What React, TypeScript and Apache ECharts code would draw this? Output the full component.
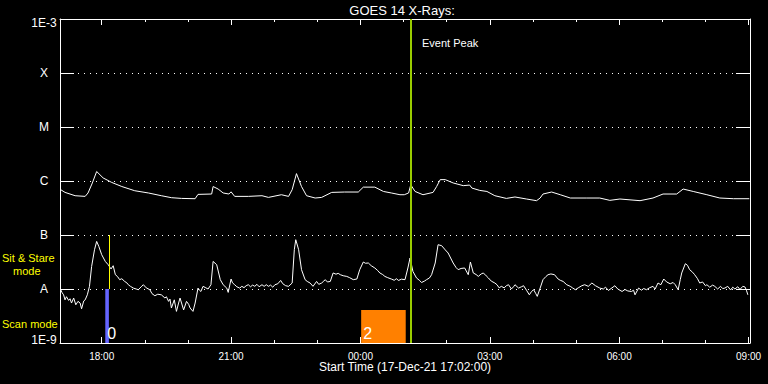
import React, { useEffect, useRef } from "react";
import * as echarts from "echarts";

// ---------- texts ----------
const chartTitle = "GOES 14 X-Rays:";
const startLabel = "Start Time (17-Dec-21 17:02:00)";
const eventLabel = "Event Peak";
const modeLabels = ["Sit & Stare", "mode", "Scan mode"];

// ---------- axes ----------
const startTime = "17:02";
const endTime = "09:02";
const majorTicks = ["18:00", "21:00", "00:00", "03:00", "06:00", "09:00"];
const minorTicks = [
  "18:00", "19:00", "20:00", "21:00", "22:00", "23:00", "00:00", "01:00",
  "02:00", "03:00", "04:00", "05:00", "06:00", "07:00", "08:00", "09:00",
];
const yMin = 1e-9;
const yMax = 1e-3;
const yTickExps = [-9, -8, -7, -6, -5, -4, -3];
const yTickLabels = ["1E-9", "A", "B", "C", "M", "X", "1E-3"];

// ---------- data: 1-8 A channel (W/m^2) ----------
const longChannel: [string, number][] = [
  ["17:03", 6.9e-7], ["17:09", 6.15e-7], ["17:23", 5.34e-7], ["17:37", 5.19e-7],
  ["17:41", 6.0e-7], ["17:47", 9.2e-7], ["17:53", 1.5e-6], ["18:02", 1.14e-6],
  ["18:14", 9.4e-7], ["18:28", 7.9e-7], ["18:46", 6.6e-7], ["19:05", 6.0e-7],
  ["19:23", 5.34e-7], ["19:37", 4.91e-7], ["19:51", 4.76e-7], ["20:10", 4.7e-7],
  ["20:14", 5.65e-7], ["20:33", 5.74e-7], ["20:35", 7.9e-7], ["20:42", 7.1e-7],
  ["20:49", 6.0e-7], ["20:57", 5.74e-7], ["21:00", 6.3e-7], ["21:05", 5.19e-7],
  ["21:24", 5.19e-7], ["21:43", 5.34e-7], ["21:52", 4.97e-7], ["22:10", 5.57e-7],
  ["22:20", 5.19e-7], ["22:25", 6.9e-7], ["22:31", 1.37e-6], ["22:38", 7.9e-7],
  ["22:45", 5.34e-7], ["22:57", 4.84e-7], ["23:06", 4.97e-7], ["23:20", 6.15e-7],
  ["23:38", 6.25e-7], ["23:57", 6.25e-7], ["00:04", 7.7e-7], ["00:20", 7.7e-7],
  ["00:32", 6.4e-7], ["00:43", 6.0e-7], ["00:55", 5.57e-7], ["01:01", 5.57e-7],
  ["01:07", 6.0e-7], ["01:10", 8.5e-7], ["01:16", 6.4e-7], ["01:27", 5.57e-7],
  ["01:41", 6.15e-7], ["01:46", 7.9e-7], ["01:51", 1.06e-6], ["01:58", 1.06e-6],
  ["02:09", 9.2e-7], ["02:23", 8.2e-7], ["02:32", 8.4e-7], ["02:35", 7.4e-7],
  ["02:46", 6.7e-7], ["02:56", 6.4e-7], ["03:07", 5.34e-7], ["03:23", 4.76e-7],
  ["03:35", 5.06e-7], ["03:51", 4.64e-7], ["04:05", 4.32e-7], ["04:10", 4.84e-7],
  ["04:14", 5.74e-7], ["04:26", 6.25e-7], ["04:38", 5.57e-7], ["04:52", 4.84e-7],
  ["05:15", 4.84e-7], ["05:33", 4.84e-7], ["05:47", 4.38e-7], ["06:01", 4.64e-7],
  ["06:29", 4.32e-7], ["06:47", 4.84e-7], ["07:01", 5.74e-7], ["07:20", 5.74e-7],
  ["07:29", 7.1e-7], ["07:43", 6.4e-7], ["08:02", 5.57e-7], ["08:20", 4.84e-7],
  ["08:39", 4.7e-7], ["09:01", 4.7e-7],
];

// ---------- data: 0.5-4 A channel, in units of 1e-8 W/m^2 (A level) ----------
const shortChannelA: [string, number][] = [
  ["17:03", 0.97], ["17:05", 0.85], ["17:07", 0.78], ["17:09", 0.63], ["17:11", 0.72],
  ["17:14", 0.615], ["17:16", 0.66], ["17:18", 0.55], ["17:21", 0.68], ["17:24", 0.51],
  ["17:27", 0.59], ["17:30", 0.55], ["17:32", 0.43], ["17:35", 0.6], ["17:37", 0.63],
  ["17:40", 0.78], ["17:43", 1.12], ["17:46", 2.62], ["17:50", 5.34], ["17:53", 7.61],
  ["17:56", 6.15], ["18:00", 4.32], ["18:05", 3.24], ["18:09", 2.82], ["18:13", 2.35],
  ["18:16", 2.7], ["18:19", 1.84], ["18:22", 1.7], ["18:25", 1.49], ["18:28", 1.55],
  ["18:32", 1.38], ["18:35", 1.3], ["18:37", 1.2], ["18:40", 1.12], ["18:44", 1.04],
  ["18:48", 1.0], ["18:51", 0.97], ["18:55", 1.1], ["18:58", 1.2], ["19:02", 1.05],
  ["19:07", 0.97], ["19:10", 0.82], ["19:14", 0.75], ["19:18", 0.8], ["19:23", 0.78],
  ["19:28", 0.68], ["19:30", 0.72], ["19:33", 0.59], ["19:35", 0.65], ["19:37", 0.445],
  ["19:41", 0.63], ["19:44", 0.385], ["19:47", 0.55], ["19:49", 0.68], ["19:54", 0.41],
  ["19:58", 0.59], ["20:01", 0.52], ["20:03", 0.445], ["20:07", 0.385], ["20:10", 0.55],
  ["20:14", 1.04], ["20:16", 0.95], ["20:18", 0.9], ["20:21", 1.12], ["20:25", 1.05],
  ["20:28", 1.0], ["20:32", 1.2], ["20:35", 3.24], ["20:40", 2.82], ["20:45", 1.49],
  ["20:49", 1.2], ["20:54", 1.04], ["20:56", 0.865], ["21:00", 1.53], ["21:02", 1.3],
  ["21:05", 1.2], ["21:08", 1.1], ["21:12", 1.04], ["21:15", 1.12], ["21:18", 1.06],
  ["21:21", 1.15], ["21:24", 1.2], ["21:27", 1.1], ["21:30", 1.18], ["21:33", 1.12],
  ["21:36", 1.22], ["21:39", 1.1], ["21:43", 1.2], ["21:46", 1.12], ["21:49", 1.2],
  ["21:52", 1.12], ["21:55", 1.18], ["21:58", 1.08], ["22:01", 1.2], ["22:05", 1.25],
  ["22:09", 1.44], ["22:12", 1.25], ["22:16", 1.15], ["22:20", 1.12], ["22:25", 1.29],
  ["22:28", 5.34], ["22:30", 8.18], ["22:34", 5.34], ["22:38", 2.28], ["22:43", 1.49],
  ["22:46", 1.38], ["22:50", 1.29], ["22:54", 1.12], ["22:59", 1.38], ["23:02", 1.22],
  ["23:06", 1.29], ["23:09", 1.4], ["23:11", 1.49], ["23:14", 1.35], ["23:18", 1.38],
  ["23:22", 1.98], ["23:26", 1.88], ["23:29", 1.95], ["23:32", 1.84], ["23:36", 1.76],
  ["23:41", 1.71], ["23:45", 1.62], ["23:50", 1.49], ["23:55", 1.53], ["23:59", 2.28],
  ["00:04", 3.16], ["00:07", 3.0], ["00:11", 3.03], ["00:15", 2.7], ["00:20", 2.45],
  ["00:24", 2.2], ["00:27", 1.98], ["00:31", 1.85], ["00:34", 1.71], ["00:38", 1.62],
  ["00:43", 1.53], ["00:47", 1.45], ["00:50", 1.55], ["00:53", 1.44], ["00:57", 1.52],
  ["01:02", 1.49], ["01:06", 2.45], ["01:09", 3.75], ["01:13", 2.12], ["01:18", 1.6],
  ["01:22", 1.45], ["01:25", 1.32], ["01:29", 1.4], ["01:32", 1.49], ["01:36", 1.6],
  ["01:39", 1.84], ["01:44", 3.03], ["01:48", 6.61], ["01:53", 6.34], ["01:58", 5.3],
  ["02:02", 4.64], ["02:09", 3.03], ["02:13", 2.5], ["02:16", 2.28], ["02:20", 2.4],
  ["02:25", 2.45], ["02:30", 1.84], ["02:33", 3.16], ["02:37", 1.98], ["02:41", 1.85],
  ["02:44", 1.71], ["02:48", 1.9], ["02:51", 1.98], ["02:55", 1.75], ["02:58", 1.6],
  ["03:02", 1.4], ["03:07", 1.29], ["03:10", 1.2], ["03:13", 1.05], ["03:16", 1.12],
  ["03:20", 1.05], ["03:23", 1.15], ["03:26", 1.2], ["03:30", 1.0], ["03:33", 1.1],
  ["03:35", 1.2], ["03:40", 1.04], ["03:44", 1.1], ["03:47", 1.15], ["03:51", 0.95],
  ["03:55", 0.78], ["03:58", 0.9], ["04:01", 0.97], ["04:04", 0.82], ["04:06", 0.73],
  ["04:10", 1.04], ["04:14", 1.49], ["04:18", 1.7], ["04:21", 1.84], ["04:25", 1.9],
  ["04:30", 1.84], ["04:35", 1.53], ["04:38", 1.45], ["04:42", 1.38], ["04:47", 1.2],
  ["04:52", 1.12], ["04:55", 1.05], ["04:59", 0.97], ["05:03", 1.05], ["05:08", 1.15],
  ["05:12", 1.2], ["05:17", 1.12], ["05:22", 1.29], ["05:27", 1.15], ["05:33", 1.04],
  ["05:38", 1.0], ["05:41", 1.08], ["05:45", 0.94], ["05:50", 1.05], ["05:54", 1.15],
  ["05:58", 1.0], ["06:04", 0.9], ["06:08", 0.98], ["06:12", 0.92], ["06:17", 0.9],
  ["06:20", 0.95], ["06:22", 0.78], ["06:27", 1.04], ["06:31", 0.95], ["06:34", 1.02],
  ["06:38", 0.97], ["06:42", 1.05], ["06:47", 1.12], ["06:50", 1.0], ["06:54", 1.29],
  ["06:58", 1.2], ["07:02", 1.53], ["07:06", 1.35], ["07:11", 1.25], ["07:15", 1.32],
  ["07:18", 1.2], ["07:22", 0.97], ["07:25", 1.5], ["07:27", 1.98], ["07:32", 2.94],
  ["07:35", 2.75], ["07:38", 2.28], ["07:42", 2.05], ["07:45", 1.84], ["07:49", 1.55],
  ["07:52", 1.29], ["07:56", 1.35], ["08:00", 1.15], ["08:02", 1.2], ["08:06", 1.08],
  ["08:10", 1.18], ["08:13", 1.12], ["08:17", 1.0], ["08:21", 1.12], ["08:24", 1.02],
  ["08:27", 1.04], ["08:31", 1.12], ["08:35", 0.96], ["08:38", 1.08], ["08:41", 1.0],
  ["08:45", 1.1], ["08:48", 0.98], ["08:52", 1.12], ["08:55", 1.09], ["08:57", 0.95],
  ["08:59", 0.78],
];

// ---------- observation markers ----------
const obsStart = ["18:05", "00:01"];
const obsEnd = ["18:10", "01:03"];
const obsTop = [1e-8, 4.1e-9];
const obsLabel = ["0", "2"];
const obsColors = ["#6464ff", "#ff8000"];
const stareTime = "18:11";
const stareRange = [1e-7, 1e-8];
const eventPeak = "01:10";

// hours since 17-Dec 00:00 (times before noon belong to 18-Dec)
const toH = (s: string) => {
  const [h, m] = s.split(":").map(Number);
  let v = h + m / 60;
  if (v < 12) v += 24;
  return v;
};

const fmtHour = (v: number) => {
  const h = Math.round(v) % 24;
  return (h < 10 ? "0" : "") + h + ":00";
};

export default function App() {
  const ref = useRef<HTMLDivElement>(null);

  useEffect(() => {
    if (!ref.current) return;
    const chart = echarts.init(ref.current, undefined, { renderer: "svg" });
    const white = "#ffffff";
    const font = "'Liberation Sans', Arial, sans-serif";
    const xMin = toH(startTime);
    const xMax = toH(endTime);
    const major = majorTicks.map(toH);
    const minor = minorTicks.map(toH);

    const xAxisDef = (position: string, ticks: number[], len: number, labels: boolean, line: boolean) => ({
      type: "value",
      position,
      min: xMin,
      max: xMax,
      axisLine: { show: line, onZero: false, lineStyle: { color: white, width: 1 } },
      axisTick: {
        show: true,
        inside: true,
        length: len,
        customValues: ticks,
        lineStyle: { color: white, width: 1 },
      },
      axisLabel: labels
        ? {
            show: true,
            customValues: ticks,
            formatter: (v: number) => fmtHour(v),
            color: white,
            fontSize: 10,
            fontFamily: font,
            margin: 8,
          }
        : { show: false },
      splitLine: { show: false },
    });

    const yLabel = (v: number) => {
      const e = Math.round(Math.log10(v));
      const i = yTickExps.indexOf(e);
      if (i < 0) return "";
      if (i === 0) return "{bot|" + yTickLabels[i] + "}";
      if (i === yTickExps.length - 1) return "{top|" + yTickLabels[i] + "}";
      return yTickLabels[i];
    };

    const yAxisDef = (position: string, labels: boolean, split: boolean) => ({
      type: "log",
      logBase: 10,
      position,
      min: yMin,
      max: yMax,
      axisLine: { show: true, lineStyle: { color: white, width: 1 } },
      axisTick: { show: true, inside: true, length: 14, lineStyle: { color: white, width: 1 } },
      minorTick: { show: false },
      axisLabel: labels
        ? {
            show: true,
            formatter: yLabel,
            color: white,
            fontSize: 12,
            fontFamily: font,
            align: "center",
            margin: 16,
            rich: {
              top: { color: white, fontSize: 12, fontFamily: font, padding: [7, 0, 0, 0] },
              bot: { color: white, fontSize: 12, fontFamily: font, padding: [0, 0, 6, 0] },
            },
          }
        : { show: false },
      splitLine: split
        ? { show: true, lineStyle: { color: white, width: 1, type: [1, 5] } }
        : { show: false },
    });

    const longData = longChannel.map(([t, v]) => [toH(t), v]);
    const shortData = shortChannelA.map(([t, v]) => [toH(t), v * 1e-8]);

    const areas = obsStart.map((s, i) => [
      {
        name: obsLabel[i],
        xAxis: toH(s),
        yAxis: yMin,
        itemStyle: { color: obsColors[i], opacity: 1 },
        label: {
          show: true,
          position: "insideBottomLeft",
          distance: 2,
          color: white,
          fontSize: 16,
          fontFamily: font,
        },
      },
      { xAxis: toH(obsEnd[i]), yAxis: obsTop[i] },
    ]);

    chart.setOption({
      animation: false,
      backgroundColor: "#000000",
      grid: { left: 60, right: 18, top: 19, bottom: 41 },
      xAxis: [
        xAxisDef("bottom", major, 6, true, true),
        xAxisDef("bottom", minor, 3, false, false),
        xAxisDef("top", major, 6, false, true),
        xAxisDef("top", minor, 3, false, false),
      ],
      yAxis: [yAxisDef("left", true, true), yAxisDef("right", false, false)],
      series: [
        {
          type: "line",
          name: "short",
          data: shortData,
          xAxisIndex: 0,
          yAxisIndex: 0,
          symbol: "none",
          showSymbol: false,
          lineStyle: { color: white, width: 1 },
          itemStyle: { color: white },
          z: 3,
          markArea: { silent: true, data: areas },
        },
        {
          type: "line",
          name: "long",
          data: longData,
          xAxisIndex: 0,
          yAxisIndex: 0,
          symbol: "none",
          showSymbol: false,
          lineStyle: { color: white, width: 1 },
          itemStyle: { color: white },
          z: 3,
          markLine: {
            silent: true,
            symbol: ["none", "none"],
            label: { show: false },
            data: [
              { xAxis: toH(eventPeak), lineStyle: { color: "#99cc00", width: 2, type: "solid" } },
              [
                { coord: [toH(stareTime), stareRange[0]], lineStyle: { color: "#ffff00", width: 1, type: "solid" } },
                { coord: [toH(stareTime), stareRange[1]] },
              ],
            ],
          },
        },
      ],
      graphic: [
        {
          type: "text",
          x: 402,
          y: 10,
          style: { text: chartTitle, fill: white, font: `13px ${font}`, textAlign: "center", textVerticalAlign: "middle" },
        },
        {
          type: "text",
          x: 422,
          y: 43,
          style: { text: eventLabel, fill: white, font: `11px ${font}`, textAlign: "left", textVerticalAlign: "middle" },
        },
        {
          type: "text",
          x: 405,
          y: 367,
          style: { text: startLabel, fill: white, font: `12px ${font}`, textAlign: "center", textVerticalAlign: "middle" },
        },
        {
          type: "text",
          x: 2,
          y: 258,
          style: { text: modeLabels[0], fill: "#ffff00", font: `11px ${font}`, textAlign: "left", textVerticalAlign: "middle" },
        },
        {
          type: "text",
          x: 13,
          y: 271,
          style: { text: modeLabels[1], fill: "#ffff00", font: `11px ${font}`, textAlign: "left", textVerticalAlign: "middle" },
        },
        {
          type: "text",
          x: 2,
          y: 324,
          style: { text: modeLabels[2], fill: "#ffff00", font: `11px ${font}`, textAlign: "left", textVerticalAlign: "middle" },
        },
      ],
    });
    return () => chart.dispose();
  }, []);

  return (
    <div
      ref={ref}
      style={{ position: "fixed", left: 0, top: 0, width: 768, height: 384, background: "#000" }}
    />
  );
}
